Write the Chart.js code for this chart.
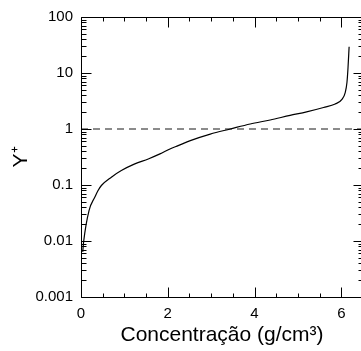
<!DOCTYPE html>
<html>
<head>
<meta charset="utf-8">
<script src="https://cdn.jsdelivr.net/npm/chart.js@4/dist/chart.umd.min.js"></script>
<style>
  html, body { margin: 0; padding: 0; overflow: hidden; background: #fff; }
  canvas { display: block; }
</style>
</head>
<body>
<canvas id="c" width="380" height="351"></canvas>
<script>
// Y+ versus concentration
const concentration = [0.04, 0.06, 0.185, 0.32, 0.39, 0.47, 0.70, 0.93, 1.24, 1.55, 1.82, 2.05, 2.24, 2.52, 2.98, 3.44, 3.90, 4.36, 4.82, 5.20, 5.59, 5.86, 6.02, 6.09, 6.13, 6.155, 6.18];
const yPlus = [0.0064, 0.0096, 0.035, 0.061, 0.079, 0.098, 0.138, 0.181, 0.238, 0.292, 0.359, 0.44, 0.505, 0.62, 0.81, 1.0, 1.23, 1.45, 1.75, 2.02, 2.42, 2.79, 3.42, 4.48, 6.75, 12.5, 29.5];
const referenceLevel = 1;

const xTickValues = [0, 2, 4, 6];
const xTickLabels = ['0', '2', '4', '6'];
const yTickValues = [0.001, 0.01, 0.1, 1, 10, 100];
const yTickLabels = ['0.001', '0.01', '0.1', '1', '10', '100'];

const X_MIN = 0, X_MAX = 6.5;
const Y_MIN = 0.001, Y_MAX = 100;
const FONT = "'Liberation Sans', Arial, sans-serif";

// Box frame with inward-pointing major and minor tick marks on all four sides
const framePlugin = {
  id: 'frame',
  afterDatasetsDraw(chart) {
    const { ctx, chartArea: a, scales: { x, y } } = chart;
    ctx.save();
    ctx.strokeStyle = '#000';
    ctx.lineWidth = 1;
    const L = Math.round(a.left) + 0.5, R = Math.round(a.right) + 0.5;
    const T = Math.round(a.top) + 0.5, B = Math.round(a.bottom) + 0.5;
    ctx.beginPath();
    ctx.moveTo(L, T); ctx.lineTo(R, T); ctx.lineTo(R, B); ctx.lineTo(L, B); ctx.closePath();
    ctx.stroke();

    ctx.beginPath();
    // x ticks every 0.5, major every 2
    for (let k = 0; k * 0.5 <= X_MAX + 1e-9; k++) {
      const v = k * 0.5;
      const px = Math.round(x.getPixelForValue(v)) + 0.5;
      const len = (k % 4 === 0) ? 10 : 4;
      ctx.moveTo(px, B); ctx.lineTo(px, B - len);
      ctx.moveTo(px, T); ctx.lineTo(px, T + len);
    }
    // y ticks: decades major, 2..9 minor
    for (let e = -3; e <= 2; e++) {
      for (let m = 1; m <= 9; m++) {
        const v = m * Math.pow(10, e);
        if (v > Y_MAX * 1.0001) break;
        const py = Math.round(y.getPixelForValue(v)) + 0.5;
        const len = (m === 1) ? 10 : 5;
        ctx.moveTo(L, py); ctx.lineTo(L + len, py);
        ctx.moveTo(R, py); ctx.lineTo(R - len, py);
      }
    }
    ctx.stroke();
    ctx.restore();
  }
};

new Chart(document.getElementById('c'), {
  type: 'line',
  data: {
    datasets: [
      {
        data: [{ x: X_MIN, y: referenceLevel }, { x: X_MAX, y: referenceLevel }],
        borderColor: '#666666',
        borderWidth: 1.5,
        borderDash: [7, 5],
        pointRadius: 0,
        order: 2
      },
      {
        data: concentration.map((c, i) => ({ x: c, y: yPlus[i] })),
        borderColor: '#000000',
        borderWidth: 1.2,
        pointRadius: 0,
        cubicInterpolationMode: 'monotone',
        order: 1
      }
    ]
  },
  options: {
    responsive: false,
    devicePixelRatio: 1,
    animation: false,
    events: [],
    layout: { padding: { top: 16, right: 17, left: 0, bottom: 0 } },
    plugins: { legend: { display: false }, tooltip: { enabled: false } },
    scales: {
      x: {
        type: 'linear',
        min: X_MIN, max: X_MAX,
        grid: { display: false, drawTicks: false },
        border: { display: false },
        afterBuildTicks(scale) { scale.ticks = xTickValues.map(v => ({ value: v })); },
        afterFit(scale) { scale.height = 54; },
        ticks: {
          padding: 8,
          maxRotation: 0,
          autoSkip: false,
          color: '#000',
          font: { family: FONT, size: 15 },
          callback: (v, i) => xTickLabels[i]
        },
        title: {
          display: true,
          text: 'Concentração (g/cm³)',
          color: '#000',
          font: { family: FONT, size: 21 },
          padding: { top: 0, bottom: 3 }
        }
      },
      y: {
        type: 'logarithmic',
        min: Y_MIN, max: Y_MAX,
        grid: { display: false, drawTicks: false },
        border: { display: false },
        afterBuildTicks(scale) { scale.ticks = yTickValues.map(v => ({ value: v })); },
        afterFit(scale) { scale.width = 81; },
        ticks: {
          padding: 8,
          autoSkip: false,
          color: '#000',
          font: { family: FONT, size: 15 },
          callback: (v, i) => yTickLabels[i]
        },
        title: {
          display: true,
          text: 'Y⁺',
          color: '#000',
          font: { family: FONT, size: 21 },
          padding: { top: 9, bottom: 0 }
        }
      }
    }
  },
  plugins: [framePlugin]
});
</script>
</body>
</html>
